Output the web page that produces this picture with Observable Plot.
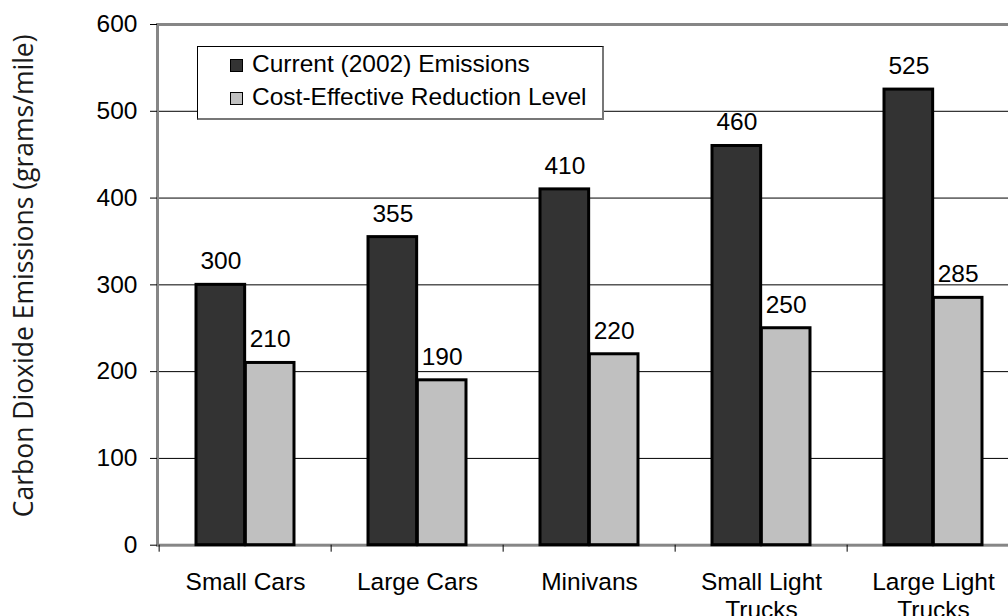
<!DOCTYPE html>
<html>
<head>
<meta charset="utf-8">
<script src="https://cdn.jsdelivr.net/npm/d3@7"></script>
<script src="https://cdn.jsdelivr.net/npm/@observablehq/plot@0.6"></script>
<style>
  html, body { margin: 0; padding: 0; background: #fff; overflow: hidden; }
  #wrap { position: relative; width: 1008px; height: 616px; }
  #legend {
    position: absolute; left: 197px; top: 46px; width: 404px; height: 71px;
    border: 1px solid #000; border-bottom: 2px solid #777; border-right: 2px solid #777;
    background: #fff; font-family: "Liberation Sans", Arial, sans-serif; font-size: 24.5px; color: #000;
  }
  #legend .row { position: absolute; left: 32px; height: 33px; line-height: 33px; white-space: nowrap; }
  #legend .sw { display: inline-block; width: 11px; height: 11px; border: 1.5px solid #000; margin-right: 9px; vertical-align: baseline; }
</style>
</head>
<body>
<div id="wrap"></div>
<script>
// ---- data ----
const categories = ["Small Cars", "Large Cars", "Minivans", "Small Light Trucks", "Large Light Trucks"];
const categoryLabels = ["Small Cars", "Large Cars", "Minivans", "Small Light\nTrucks", "Large Light\nTrucks"];
const currentEmissions = [300, 355, 410, 460, 525];
const reductionLevel = [210, 190, 220, 250, 285];
const seriesNames = ["Current (2002) Emissions", "Cost-Effective Reduction Level"];
const seriesColors = ["#333333", "#c0c0c0"];
const yTicks = [0, 100, 200, 300, 400, 500, 600];
const gridValues = [100, 200, 300, 400, 500];
const yTitle = "Carbon Dioxide Emissions (grams/mile)";

// ---- layout ----
const W = 1008, H = 616, mL = 157, mR = -12.5, mT = 24, mB = 71.3;
const step = (W - mL - mR) / categories.length;
const bw = step / 3.5;
const gapHalf = (step - 2 * bw) / 2;

const currentRows = categories.map((c, i) => ({category: c, value: currentEmissions[i]}));
const reductionRows = categories.map((c, i) => ({category: c, value: reductionLevel[i]}));

const chart = Plot.plot({
  width: W, height: H,
  marginLeft: mL, marginRight: mR, marginTop: mT, marginBottom: mB,
  style: {fontFamily: "'Liberation Sans', Arial, sans-serif", fontSize: "24.5px", color: "#000", background: "#fff"},
  x: {type: "band", domain: categories, padding: 0, label: null},
  y: {domain: [0, 600], label: null},
  marks: [
    Plot.ruleY(gridValues, {stroke: "#000", strokeWidth: 1}),
    Plot.frame({stroke: "#868686", strokeWidth: 3}),
    Plot.barY(currentRows, {x: "category", y: "value", fill: seriesColors[0], stroke: "#000", strokeWidth: 3,
      insetLeft: gapHalf, insetRight: gapHalf + bw}),
    Plot.barY(reductionRows, {x: "category", y: "value", fill: seriesColors[1], stroke: "#000", strokeWidth: 3,
      insetLeft: gapHalf + bw, insetRight: gapHalf}),
    Plot.text(currentRows, {x: "category", y: "value", text: d => String(d.value), dx: -bw / 2, dy: -15.5, lineAnchor: "bottom", fill: "#000"}),
    Plot.text(reductionRows, {x: "category", y: "value", text: d => String(d.value), dx: bw / 2, dy: -15.5, lineAnchor: "bottom", fill: "#000"}),
    Plot.axisY({ticks: yTicks, tickSize: 7, tickPadding: 13, label: null, stroke: "#000"}),
    Plot.axisX({tickSize: 7, tickFormat: () => "", dx: -step / 2, label: null, stroke: "#000"}),
    Plot.axisX({tickSize: 0, tickPadding: 24, tickFormat: (d, i) => categoryLabels[categories.indexOf(d)], lineHeight: 1.17, label: null}),
    Plot.text([yTitle], {frameAnchor: "left", rotate: -90, textAnchor: "middle", lineAnchor: "middle", dx: -132.5, dy: -9,
      fontFamily: "'Open Sans', sans-serif", fontSize: 26.5, fill: "#1a1a1a"})
  ]
});

const wrap = document.getElementById("wrap");
wrap.appendChild(chart);

const legend = document.createElement("div");
legend.id = "legend";
seriesNames.forEach((name, i) => {
  const row = document.createElement("div");
  row.className = "row";
  row.style.top = (i * 33) + "px";
  const sw = document.createElement("span");
  sw.className = "sw";
  sw.style.background = seriesColors[i];
  row.appendChild(sw);
  row.appendChild(document.createTextNode(name));
  legend.appendChild(row);
});
wrap.appendChild(legend);
</script>
</body>
</html>
